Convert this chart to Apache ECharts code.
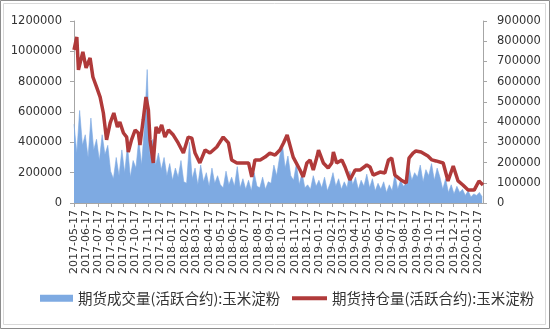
<!DOCTYPE html>
<html>
<head>
<meta charset="utf-8">
<script src="https://cdn.jsdelivr.net/npm/echarts@6/dist/echarts.min.js"></script>
<style>
html,body{margin:0;padding:0;background:#fff;}
#c{width:550px;height:329px;}
</style>
</head>
<body>
<div id="c"></div>
<script>
// ---- data ----
const volName = '期货成交量(活跃合约):玉米淀粉';
const oiName = '期货持仓量(活跃合约):玉米淀粉';
const firstDay = '2017-05-17';
const lastDay = '2020-02-28';
// weekly trading volume samples (thousand lots), one per week starting 2017-05-17
const volK = [
520,330,610,380,450,
300,560,350,420,
280,450,320,380,210,
160,300,180,350,
200,380,170,280,
230,420,250,500,880,
300,420,250,330,
220,300,180,260,
150,230,170,280,140,
130,400,160,230,
120,250,140,200,110,230,130,180,120,
100,210,120,170,
110,240,100,160,
90,150,80,200,110,
100,170,90,140,
130,250,180,300,
390,230,310,180,
150,260,120,200,100,
120,90,180,110,
150,100,170,80,130,
200,110,160,90,
140,100,210,120,
170,90,150,110,190,
100,160,80,130,
90,140,70,120,
80,190,90,150,110,
130,240,150,200,
170,250,140,220,
180,260,150,230,170,
90,160,70,120,
60,110,70,90,50,
80,40,60,50,
70,40
];
// open interest
const oiDates = [
'2017-05-17','2017-05-24','2017-05-28','2017-06-08','2017-06-16','2017-06-26','2017-07-03','2017-07-12','2017-07-21','2017-07-29',
'2017-08-06','2017-08-15','2017-08-24','2017-09-02','2017-09-08','2017-09-17','2017-09-25','2017-09-29','2017-10-07','2017-10-16',
'2017-10-24','2017-10-28','2017-11-05','2017-11-12','2017-11-18','2017-11-22','2017-11-30','2017-12-07','2017-12-13','2017-12-21',
'2017-12-29','2018-01-07','2018-01-19','2018-01-31','2018-02-13','2018-02-25','2018-03-06','2018-03-14','2018-03-26','2018-04-08',
'2018-04-20','2018-05-07','2018-05-23','2018-06-05','2018-06-13','2018-06-26','2018-07-12','2018-07-25','2018-08-02','2018-08-10',
'2018-08-23','2018-09-04','2018-09-16','2018-09-29','2018-10-11','2018-10-20','2018-10-29','2018-11-13','2018-11-30','2018-12-08',
'2018-12-17','2018-12-25','2019-01-02','2019-01-11','2019-01-15','2019-01-27','2019-02-08','2019-02-17','2019-02-21','2019-03-01',
'2019-03-14','2019-03-22','2019-04-03','2019-04-16','2019-04-28','2019-05-15','2019-05-23','2019-05-31','2019-06-17','2019-06-29',
'2019-07-08','2019-07-16','2019-07-24','2019-08-08','2019-08-21','2019-08-28','2019-09-07','2019-09-14','2019-09-27','2019-10-14',
'2019-10-24','2019-11-03','2019-11-21','2019-12-03','2019-12-16','2019-12-28','2020-01-09','2020-01-22','2020-02-06','2020-02-18',
'2020-02-28'
];
const oiK = [
757,821,658,747,668,717,623,574,524,445,
312,396,445,376,400,346,326,252,312,361,
346,287,410,524,460,312,198,376,346,386,
326,361,336,297,247,326,321,247,198,262,
247,277,326,297,213,198,198,198,129,213,
213,227,247,237,262,297,336,227,163,129,
198,213,163,227,262,198,173,198,252,198,
213,178,114,163,163,188,178,138,153,148,
213,222,138,114,99,222,247,257,252,232,
213,208,198,109,183,109,89,64,64,109,
89
];
const leftTicks = {min:0, max:1200000, step:200000};
const rightTicks = {min:0, max:900000, step:100000};

// ---- build ----
function fmt(t){const d=new Date(t);const m=d.getUTCMonth()+1, dd=d.getUTCDate();return d.getUTCFullYear()+'-'+(m<10?'0':'')+m+'-'+(dd<10?'0':'')+dd;}
const categories = [];
for(let t=Date.parse(firstDay+'T00:00:00Z'); t<=Date.parse(lastDay+'T00:00:00Z'); t+=86400000){categories.push(fmt(t));}
const volData = volK.map((v,i)=>[i*7, v*1000]);
const oiData = oiDates.map((d,i)=>[d, oiK[i]*1000]);

const blue = '#7eaae2';
const red = '#b03a3a';
const axisColor = '#a6a6a6';
const labelColor = '#333333';
const is17 = (idx, val) => String(val).slice(8) === '17';
const plain = v => String(v);
const legendText = {fontFamily:'Noto Sans CJK SC', fontSize:14.5, color:'#333'};

const chart = echarts.init(document.getElementById('c'));
chart.setOption({
  animation:false,
  backgroundColor:'#fff',
  graphic:[
    {type:'rect', shape:{x:0.5,y:0.5,width:549,height:328}, style:{fill:'none', stroke:'#8c8c8c', lineWidth:1}},
    {type:'rect', shape:{x:3.5,y:3.5,width:542,height:321}, style:{fill:'none', stroke:'#d9d9d9', lineWidth:1}}
  ],
  grid:{left:74, right:67, top:21, bottom:126},
  legend:[
    {left:35, top:286, itemWidth:33, itemHeight:7, textStyle:legendText,
     data:[{name:volName, icon:'rect'}]},
    {left:287, top:286, itemWidth:35, itemHeight:4, textStyle:legendText,
     data:[{name:oiName, icon:'rect'}]}
  ],
  xAxis:{
    type:'category', data:categories, boundaryGap:false,
    axisLine:{lineStyle:{color:axisColor}},
    axisTick:{interval:is17, length:4, lineStyle:{color:axisColor}},
    axisLabel:{interval:is17, rotate:90, margin:7, fontFamily:'DejaVu Sans', fontSize:11, color:labelColor}
  },
  yAxis:[
    {type:'value', min:leftTicks.min, max:leftTicks.max, interval:leftTicks.step,
     axisLine:{show:true, lineStyle:{color:axisColor}},
     axisTick:{show:true, length:4, lineStyle:{color:axisColor}},
     splitLine:{show:false},
     axisLabel:{margin:12, formatter:plain, fontFamily:'DejaVu Sans', fontSize:11.5, color:labelColor}},
    {type:'value', min:rightTicks.min, max:rightTicks.max, interval:rightTicks.step, position:'right',
     axisLine:{show:true, lineStyle:{color:axisColor}},
     axisTick:{show:true, length:4, lineStyle:{color:axisColor}},
     splitLine:{show:false},
     axisLabel:{margin:14, formatter:plain, fontFamily:'DejaVu Sans', fontSize:11.5, color:labelColor}}
  ],
  series:[
    {name:volName, type:'line', yAxisIndex:0, data:volData, symbol:'none', z:1,
     itemStyle:{color:blue},
     lineStyle:{color:blue, width:0.6},
     areaStyle:{color:blue, opacity:1}},
    {name:oiName, type:'line', yAxisIndex:1, data:oiData, symbol:'none', z:3,
     itemStyle:{color:red},
     lineStyle:{color:red, width:3.5}}
  ]
});
</script>
</body>
</html>
